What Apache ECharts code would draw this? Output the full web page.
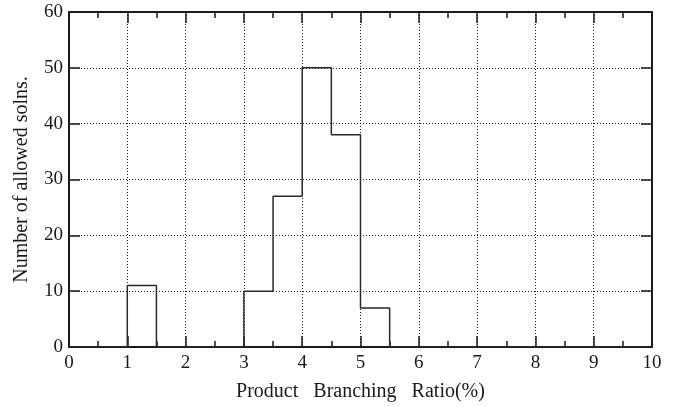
<!DOCTYPE html>
<html>
<head>
<meta charset="utf-8">
<script src="https://cdn.jsdelivr.net/npm/echarts@6/dist/echarts.min.js"></script>
<style>
  html, body { margin: 0; padding: 0; background: #fff; }
  #chart { width: 688px; height: 407px; }
</style>
</head>
<body>
<div id="chart"></div>
<script>
// histogram bins (left edge, width 0.5) and counts
var binWidth = 0.5;
var binLefts = [1, 3, 3.5, 4, 4.5, 5];
var counts = [11, 10, 27, 50, 38, 7];
var xTicks = [0, 1, 2, 3, 4, 5, 6, 7, 8, 9, 10];
var yTicks = [0, 10, 20, 30, 40, 50, 60];

var xMin = xTicks[0], xMax = xTicks[xTicks.length - 1];

// step outline: one point per bin left edge, then close at the right end
function buildOutline() {
  var pts = [];
  var nBins = Math.round((xMax - xMin) / binWidth);
  for (var i = 0; i < nBins; i++) {
    var left = xMin + i * binWidth;
    var idx = binLefts.indexOf(left);
    pts.push([left, idx >= 0 ? counts[idx] : 0]);
  }
  pts.push([xMax, 0]);
  return pts;
}

var font = '"Liberation Serif", "DejaVu Serif", serif';
var ink = '#1a1a1a';

var frameX = {
  type: 'value',
  min: xMin, max: xMax, interval: 1,
  axisLine: { show: true, onZero: false, lineStyle: { color: ink, width: 2 } },
  axisTick: { show: true, inside: true, length: 11, lineStyle: { color: ink, width: 1.5 } },
  minorTick: { show: true, splitNumber: 2, length: 6, lineStyle: { color: ink, width: 1.5 } },
  splitLine: { show: false }
};
var frameY = {
  type: 'value',
  min: yTicks[0], max: yTicks[yTicks.length - 1], interval: 10,
  axisLine: { show: true, onZero: false, lineStyle: { color: ink, width: 2 } },
  axisTick: { show: true, inside: true, length: 11, lineStyle: { color: ink, width: 1.5 } },
  splitLine: { show: false }
};

var option = {
  backgroundColor: '#fff',
  animation: false,
  grid: { left: 69, right: 36, top: 12, bottom: 59 },
  xAxis: [
    Object.assign({}, frameX, {
      position: 'bottom',
      name: 'Product   Branching   Ratio(%)',
      nameLocation: 'middle',
      nameGap: 35,
      nameTextStyle: { fontFamily: font, fontSize: 20, color: ink },
      axisLabel: { show: true, margin: 7, fontFamily: font, fontSize: 19, color: ink },
      splitLine: { show: true, lineStyle: { color: ink, width: 1, type: [1, 2] } }
    }),
    Object.assign({}, frameX, {
      position: 'top',
      axisLabel: { show: false }
    })
  ],
  yAxis: [
    Object.assign({}, frameY, {
      position: 'left',
      name: 'Number of allowed solns.',
      nameLocation: 'middle',
      nameGap: 37,
      nameTextStyle: { fontFamily: font, fontSize: 20, color: ink },
      axisLabel: { show: true, margin: 6, fontFamily: font, fontSize: 19, color: ink },
      splitLine: { show: true, lineStyle: { color: ink, width: 1, type: [1, 2] } }
    }),
    Object.assign({}, frameY, {
      position: 'right',
      axisLabel: { show: false }
    })
  ],
  series: [{
    type: 'line',
    xAxisIndex: 0,
    yAxisIndex: 0,
    step: 'end',
    data: buildOutline(),
    showSymbol: false,
    symbol: 'none',
    lineStyle: { color: '#2a2a2a', width: 1.5 },
    z: 3
  }]
};

var chart = echarts.init(document.getElementById('chart'));
chart.setOption(option);
</script>
</body>
</html>
